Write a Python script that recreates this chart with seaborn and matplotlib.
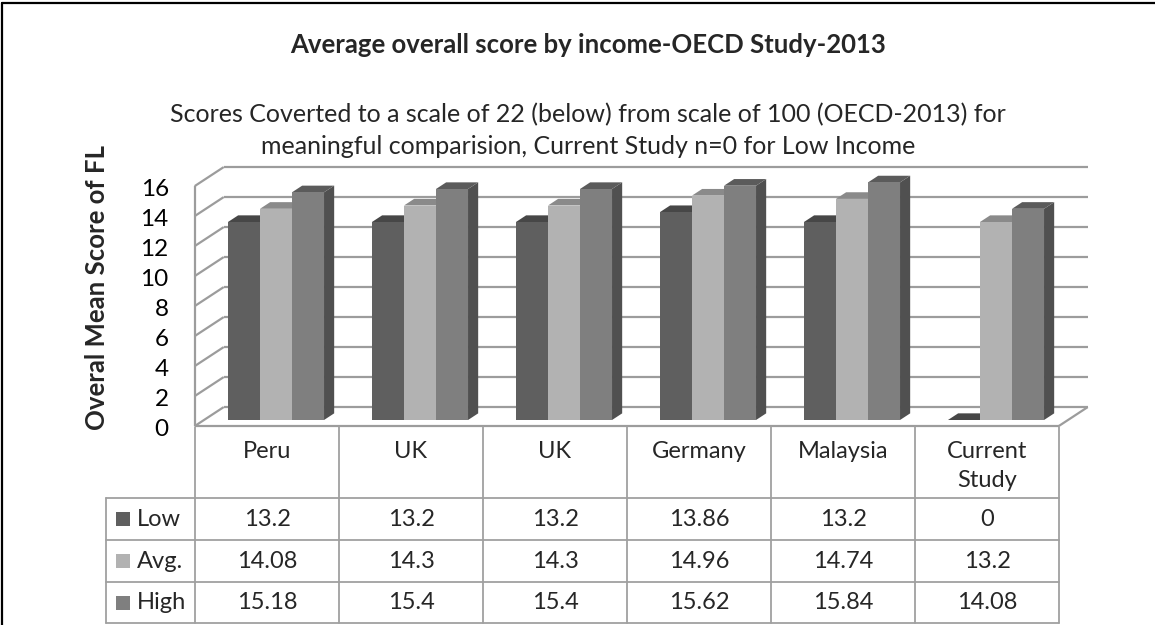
import numpy as np
import pandas as pd
import matplotlib
matplotlib.use("Agg")
import matplotlib.pyplot as plt
from matplotlib.patches import Polygon, Rectangle
from matplotlib.lines import Line2D
import seaborn as sns

# ---------------- data ----------------
categories = ["Peru", "UK", "UK", "Germany", "Malaysia", "Current\nStudy"]
series_names = ["Low", "Avg.", "High"]
low_values = [13.2, 13.2, 13.2, 13.86, 13.2, 0]
avg_values = [14.08, 14.3, 14.3, 14.96, 14.74, 13.2]
high_values = [15.18, 15.4, 15.4, 15.62, 15.84, 14.08]
y_ticks = [0, 2, 4, 6, 8, 10, 12, 14, 16]

title = "Average overall score by income-OECD Study-2013"
subtitle_1 = "Scores Coverted to a scale of 22 (below) from scale of 100 (OECD-2013) for"
subtitle_2 = "meaningful comparision, Current Study n=0 for Low Income"
y_label = "Overal Mean Score of FL"

# ---------------- style ----------------
front_colors = {"Low": "#5f5f5f", "Avg.": "#b2b2b2", "High": "#7f7f7f"}
side_colors = {"Low": "#4e4e4e", "Avg.": "#8e8e8e", "High": "#505050"}
top_colors = {"Low": "#474747", "Avg.": "#8a8a8a", "High": "#5b5b5b"}
grid_color = "#9c9c9c"
table_color = "#a0a0a0"

sns.set_theme(style="white")
FONT = ["Lato", "DejaVu Sans"]
plt.rcParams["font.family"] = FONT

W, H = 1155, 625
fig = plt.figure(figsize=(W / 100, H / 100), dpi=100)
fig.patch.set_facecolor("white")

# long-form data for seaborn
series_values = {"Low": low_values, "Avg.": avg_values, "High": high_values}
rows = []
for s in series_names:
    for i, v in enumerate(series_values[s]):
        rows.append({"slot": i, "income": s, "value": v})
df = pd.DataFrame(rows)

# main axes = plane of the bar fronts
ax = fig.add_axes([204 / W, (H - 420) / H, 864 / W, 255 / H])
sns.barplot(data=df, x="slot", y="value", hue="income", hue_order=series_names,
            palette=[front_colors[s] for s in series_names], width=0.667,
            saturation=1, legend=False, errorbar=None, ax=ax)
n_cat = len(categories)
ax.set_xlim(-0.5, n_cat - 0.5)
ax.set_ylim(0, 17)
ax.axis("off")

# depth helpers (oblique projection): full depth = (29, 19) px
DEPTH = np.array([29.0, 19.0])
D_FRONT, D_BACK, D_BAR = -0.32, 0.68, 0.35


def P(x, y, d):
    disp = ax.transData.transform((x, y)) + d * DEPTH
    return ax.transData.inverted().transform(disp)


def seg(p0, p1, **kw):
    ax.add_line(Line2D([p0[0], p1[0]], [p0[1], p1[1]], clip_on=False, **kw))


gkw = dict(color=grid_color, lw=1.6, zorder=1, solid_capstyle="butt")
x_left, x_right = -0.5, n_cat - 0.5
for v in y_ticks:
    # back wall line
    seg(P(x_left, v, D_BACK), P(x_right, v, D_BACK), **gkw)
    # side wall line
    seg(P(x_left, v, D_FRONT), P(x_left, v, D_BACK), **gkw)
# side wall front edge
seg(P(x_left, 0, D_FRONT), P(x_left, y_ticks[-1], D_FRONT), **gkw)
# floor
seg(P(x_left, 0, D_FRONT), P(x_right, 0, D_FRONT), **gkw)
seg(P(x_right, 0, D_FRONT), P(x_right, 0, D_BACK), **gkw)

# 3D bar faces
bars = [p for p in ax.patches if isinstance(p, Rectangle)]
bars.sort(key=lambda p: p.get_x())
for k, p in enumerate(bars):
    x0, w, h = p.get_x(), p.get_width(), p.get_height()
    fc = matplotlib.colors.to_hex(p.get_facecolor())
    name = [s for s in series_names if front_colors[s] == fc][0]
    z = 3 + k * 0.01
    p.set_edgecolor("none")
    p.set_linewidth(0)
    p.set_zorder(z + 0.003)
    side = [P(x0 + w, 0, 0), P(x0 + w, h, 0), P(x0 + w, h, D_BAR), P(x0 + w, 0, D_BAR)]
    top = [P(x0, h, 0), P(x0 + w, h, 0), P(x0 + w, h, D_BAR), P(x0, h, D_BAR)]
    ax.add_patch(Polygon(side, closed=True, facecolor=side_colors[name],
                         edgecolor="none", zorder=z, clip_on=False))
    ax.add_patch(Polygon(top, closed=True, facecolor=top_colors[name],
                         edgecolor="none", zorder=z + 0.001, clip_on=False))

# y tick labels on the front edge of the side wall
for v in y_ticks:
    px = P(x_left, v, D_FRONT)
    disp = ax.transData.transform(px) + np.array([-26.0, -3.0])
    tx, ty = ax.transData.inverted().transform(disp)
    ax.text(tx, ty, f"{v}", ha="right", va="center", fontsize=17.5,
            color="black", clip_on=False)

# ---------------- data table ----------------
tax = fig.add_axes([195 / W, (H - 623) / H, 864 / W, 196 / H])
tax.set_xlim(-0.5, n_cat - 0.5)
tax.set_ylim(196, 0)
tax.axis("off")
row_edges = [0, 71, 113, 155, 196]
label_left = -0.5 - 89 / 144
tkw = dict(color=table_color, lw=1.3, clip_on=False)
for k in range(n_cat + 1):
    tax.plot([-0.5 + k, -0.5 + k], [0, row_edges[-1]], **tkw)
tax.plot([label_left, label_left], [row_edges[1], row_edges[-1]], **tkw)
for r in row_edges[1:]:
    tax.plot([label_left, x_right], [r, r], **tkw)

for i, c in enumerate(categories):
    tax.text(i, 14, c, ha="center", va="top", fontsize=17, linespacing=1.45)

for r, s in enumerate(series_names):
    yc = (row_edges[r + 1] + row_edges[r + 2]) / 2
    tax.add_patch(Rectangle((label_left + 10 / 144, yc - 7), 14 / 144, 14,
                            facecolor=front_colors[s], edgecolor="none", clip_on=False))
    tax.text(label_left + 31 / 144, yc, s, ha="left", va="center", fontsize=17)
    for i, v in enumerate(series_values[s]):
        tax.text(i, yc, f"{v:g}", ha="center", va="center", fontsize=17)

# ---------------- titles ----------------
fig.text(588 / W, 1 - 45 / H, title, ha="center", va="center",
         fontsize=18.5, fontweight="bold")
fig.text(588 / W, 1 - 115 / H, subtitle_1, ha="center", va="center", fontsize=18)
fig.text(588 / W, 1 - 147 / H, subtitle_2, ha="center", va="center", fontsize=18)
fig.text(97 / W, 1 - 287 / H, y_label, ha="center", va="center", rotation=90,
         fontsize=18.5, fontweight="bold")

# outer border (left and top)
fig.add_artist(Line2D([2 / W, 2 / W], [0, 1 - 3 / H], color="black", lw=1.6,
                      transform=fig.transFigure))
fig.add_artist(Line2D([2 / W, 1], [1 - 3 / H, 1 - 3 / H], color="black", lw=1.6,
                      transform=fig.transFigure))

fig.savefig("out.png", dpi=100, facecolor="white")
